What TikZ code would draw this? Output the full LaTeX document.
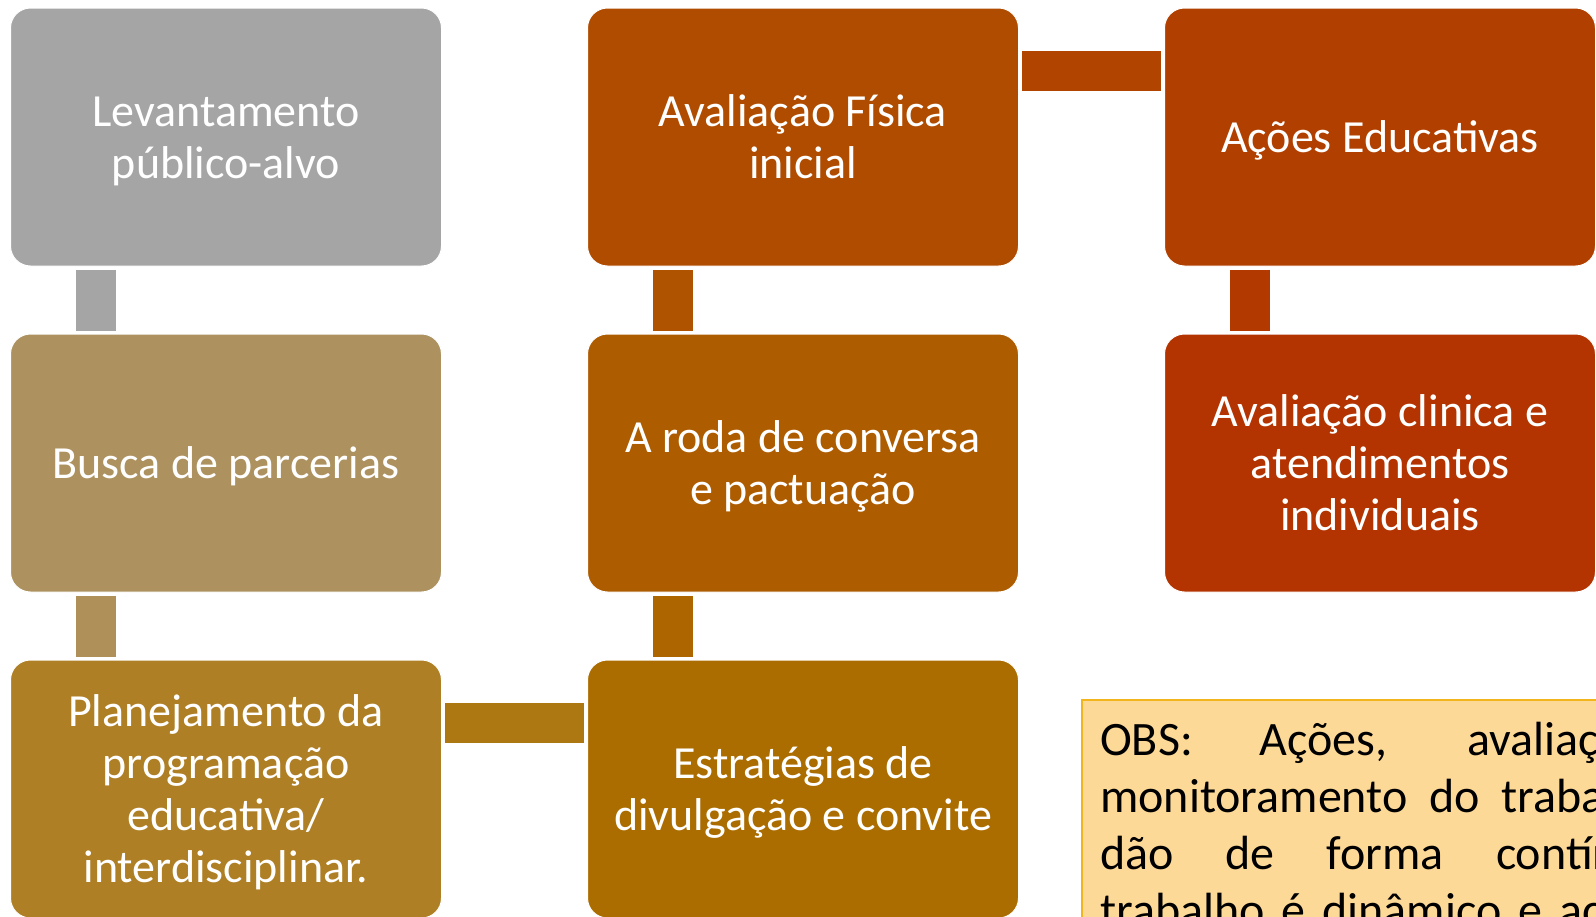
\documentclass[tikz,border=0pt]{standalone}
\usepackage{fontspec}
\setmainfont{Carlito}
\usetikzlibrary{positioning}
\definecolor{levcor}{HTML}{A5A5A5}
\definecolor{buscor}{HTML}{AD9260}
\definecolor{buselo}{HTML}{AE9058}
\definecolor{placor}{HTML}{AE7F24}
\definecolor{plaelo}{HTML}{AD7812}
\definecolor{estcor}{HTML}{AB6D00}
\definecolor{estelo}{HTML}{AD6500}
\definecolor{rodcor}{HTML}{AE5C00}
\definecolor{rodelo}{HTML}{AF5300}
\definecolor{fiscor}{HTML}{B04C00}
\definecolor{fiselo}{HTML}{B14500}
\definecolor{acocor}{HTML}{B14000}
\definecolor{acoelo}{HTML}{B23900}
\definecolor{clicor}{HTML}{B33400}
\definecolor{obsfundo}{HTML}{FDD998}
\definecolor{obsborda}{HTML}{F2B51C}
\newcommand{\linhaalto}{\rule{0pt}{44pt}}
\newcommand{\linhabaixo}{\rule[-12.4pt]{0pt}{12.4pt}}

\begin{document}
\begin{tikzpicture}[x=1pt, y=-1pt,
    etapa/.style={rounded corners=20pt, draw=white, line width=1pt, text=white, minimum width=431pt, minimum height=258pt, inner sep=0pt, align=center, font=\fontsize{46}{52}\selectfont},
    elo/.style={line width=40pt}]
    \useasboundingbox (0,0) rectangle (1596,916);
    \clip (0,0) rectangle (1596,916);

    \node[etapa, fill=levcor] (lev) at (226,137) {\linhaalto Levantamento\\público-alvo\linhabaixo};
    \node[etapa, fill=buscor, below=67pt of lev] (bus) {\linhaalto Busca de parcerias\linhabaixo};
    \node[etapa, fill=placor, below=67pt of bus] (pla) {\linhaalto Planejamento da\\programação\\educativa/\\interdisciplinar.\linhabaixo};
    \node[etapa, fill=estcor, right=145pt of pla] (est) {\linhaalto Estratégias de\\divulgação e convite\linhabaixo};
    \node[etapa, fill=rodcor, above=67pt of est] (rod) {\linhaalto A roda de conversa\\e pactuação\linhabaixo};
    \node[etapa, fill=fiscor, above=67pt of rod] (fis) {\linhaalto Avaliação Física\\inicial\linhabaixo};
    \node[etapa, fill=acocor, right=145pt of fis] (aco) {\linhaalto Ações Educativas\linhabaixo};
    \node[etapa, fill=clicor, below=67pt of aco] (cli) {\linhaalto Avaliação clinica e\\atendimentos\\individuais\linhabaixo};

    \draw[elo, levcor] ([xshift=86pt,yshift=-3pt]lev.south west) -- ([xshift=86pt,yshift=3pt]bus.north west);
    \draw[elo, buselo] ([xshift=86pt,yshift=-3pt]bus.south west) -- ([xshift=86pt,yshift=3pt]pla.north west);
    \draw[elo, plaelo] ([xshift=3pt,yshift=-63pt]pla.north east) -- ([xshift=-3pt,yshift=-63pt]est.north west);
    \draw[elo, estelo] ([xshift=86pt,yshift=3pt]est.north west) -- ([xshift=86pt,yshift=-3pt]rod.south west);
    \draw[elo, rodelo] ([xshift=86pt,yshift=3pt]rod.north west) -- ([xshift=86pt,yshift=-3pt]fis.south west);
    \draw[elo, fiselo] ([xshift=3pt,yshift=-63pt]fis.north east) -- ([xshift=-3pt,yshift=-63pt]aco.north west);
    \draw[elo, acoelo] ([xshift=86pt,yshift=-3pt]aco.south west) -- ([xshift=86pt,yshift=3pt]cli.north west);

    \node[anchor=north west, fill=obsfundo, draw=obsborda, line width=1.5pt, minimum width=620pt, minimum height=300pt] (obs) at (1081,699) {};
    \node[anchor=north west, inner sep=0pt, text width=566pt, align=justify, font=\fontsize{48}{57}\selectfont] (obstexto) at (1100,715) {\strut OBS: Ações, avaliações\linebreak monitoramento do trabalho\linebreak dão de forma contínua\linebreak{\spaceskip=17pt trabalho é dinâmico e ac}};
\end{tikzpicture}
\end{document}
